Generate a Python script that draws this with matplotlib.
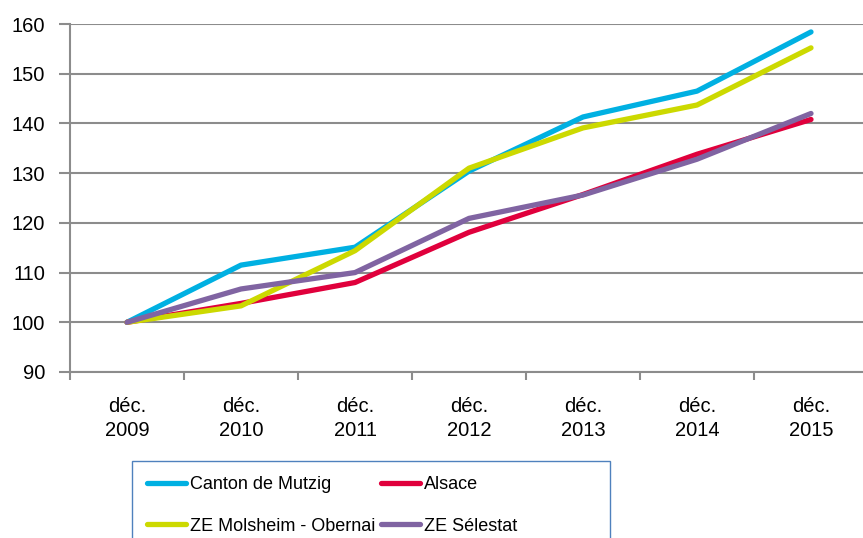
import matplotlib
matplotlib.use("Agg")
import matplotlib.pyplot as plt
from matplotlib.patches import Rectangle
import numpy as np

plt.rcParams['font.family'] = ['Liberation Sans', 'DejaVu Sans']

categories = ["déc.\n2009", "déc.\n2010", "déc.\n2011", "déc.\n2012", "déc.\n2013", "déc.\n2014", "déc.\n2015"]
canton_mutzig = [100, 111.5, 115.1, 130.4, 141.3, 146.5, 158.4]
alsace = [100, 103.8, 108.0, 118.1, 125.7, 133.8, 140.8]
ze_molsheim = [100, 103.3, 114.4, 131.0, 139.1, 143.7, 155.2]
ze_selestat = [100, 106.7, 110.0, 120.9, 125.6, 132.8, 142.0]

labels = ["Canton de Mutzig", "Alsace", "ZE Molsheim - Obernai", "ZE Sélestat"]
colors = ["#00B0E2", "#E0003C", "#CCD900", "#8064A2"]

W, H = 863, 538
fig = plt.figure(figsize=(W / 100, H / 100), dpi=100)
ax = fig.add_axes([70 / W, 1 - 372 / H, (868 - 70) / W, (372 - 24) / H])

x = np.arange(len(categories))
series = [canton_mutzig, alsace, ze_molsheim, ze_selestat]
handles = []
for vals, c, lab in zip(series, colors, labels):
    h, = ax.plot(x, vals, color=c, lw=3.8, label=lab, solid_capstyle='round', solid_joinstyle='round')
    handles.append(h)

ax.set_xlim(-0.5, len(categories) - 0.5)
ax.set_ylim(90, 160)
ax.set_yticks(np.arange(90, 161, 10))
ax.yaxis.grid(True, color="#8C8C8C", lw=1.5)
ax.set_axisbelow(True)

ax.set_xticks(np.arange(-0.5, len(categories), 1.0))
ax.set_xticklabels([])
ax.set_xticks(x, minor=True)
ax.set_xticklabels(categories, minor=True, fontsize=14.5, linespacing=1.3)
ax.tick_params(axis='x', which='major', length=6, width=1.5, color="#8C8C8C", direction='out')
ax.tick_params(axis='x', which='minor', length=0, pad=18)
ax.tick_params(axis='y', length=8, width=1.5, color="#8C8C8C", labelsize=14.5, pad=10)

for s in ['top', 'right']:
    ax.spines[s].set_visible(False)
for s in ['left', 'bottom']:
    ax.spines[s].set_color("#8C8C8C")
    ax.spines[s].set_linewidth(1.5)

# legend frame drawn as a box (Excel-style wide legend area)
frame = Rectangle((132 / W, -0.05), (610 - 132) / W, (1 - 461 / H) + 0.05,
                  transform=fig.transFigure, facecolor='white', edgecolor="#4F81BD",
                  linewidth=1.0, zorder=1)
fig.patches.append(frame)

order = [0, 2, 1, 3]
leg = fig.legend([handles[i] for i in order], [labels[i] for i in order],
                 loc='upper left', bbox_to_anchor=(132 / W, 1 - 461 / H), ncol=2,
                 fontsize=13, handlelength=2.15, handletextpad=0.2, columnspacing=0.35,
                 labelspacing=1.35, borderpad=0.85, borderaxespad=0, frameon=False)
leg.set_zorder(2)

fig.savefig("out.png", dpi=100)
